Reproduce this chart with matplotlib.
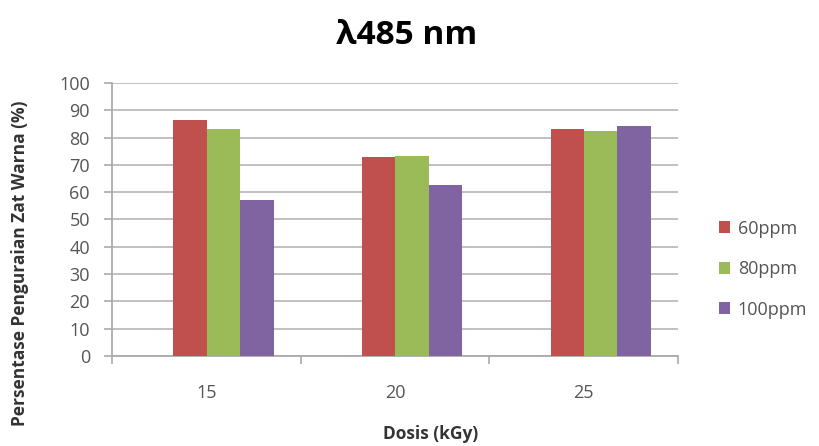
import numpy as np
import matplotlib.pyplot as plt

plt.rcParams['font.family'] = ['Open Sans', 'DejaVu Sans']

doses = ['15', '20', '25']
series = ['60ppm', '80ppm', '100ppm']
v60 = [86.4, 72.8, 83.2]
v80 = [83.2, 73.2, 82.4]
v100 = [57.0, 62.6, 84.2]
colors = ['#C0504D', '#9BBB59', '#8064A2']

fig = plt.figure(figsize=(8.19, 4.46), dpi=100)
ax = fig.add_axes([0.137, 0.202, 0.691, 0.612])

x = np.arange(len(doses))
w = 0.177
shift = 0.09  # bars sit a bit right of the category centre in the original
for i, (vals, name) in enumerate(zip([v60, v80, v100], series)):
    ax.bar(x + shift + (i - 1) * w, vals, w, color=colors[i], label=name, zorder=3)

ax.set_xlim(-0.5, 2.5)
ax.set_ylim(0, 100)
ax.set_yticks(np.arange(0, 101, 10))
ax.set_xticks(x)
ax.set_xticklabels(doses)
ax.set_xticks([-0.5, 0.5, 1.5, 2.5], minor=True)
ax.tick_params(axis='x', which='major', length=0, pad=20, labelsize=13, labelcolor='#555555')
ax.tick_params(axis='x', which='minor', length=6, color='#aaaaaa', width=1.2)
ax.tick_params(axis='y', length=6, color='#aaaaaa', width=1.2, labelsize=13,
               labelcolor='#555555', pad=10)
ax.grid(axis='y', color='#bbbbbb', linewidth=1.3, zorder=0)
for s in ['top', 'right']:
    ax.spines[s].set_visible(False)
for s in ['left', 'bottom']:
    ax.spines[s].set_color('#aaaaaa')
    ax.spines[s].set_linewidth(1.3)

fig.text(0.526, 0.006, 'Dosis (kGy)', fontsize=12.5, fontweight='bold',
         color='#333333', ha='center', va='bottom')
fig.text(0.024, 0.41, 'Persentase Penguraian Zat Warna (%)', fontsize=12.5,
         fontweight='bold', color='#333333', rotation=90, ha='center', va='center')
fig.text(0.497, 0.92, 'λ485 nm', fontsize=24, fontweight='bold', ha='center', va='center')

ax.legend(loc='center left', bbox_to_anchor=(1.043, 0.318), frameon=False,
          fontsize=13, handlelength=0.65, handleheight=0.65, handletextpad=0.4,
          labelspacing=1.25, labelcolor='#555555')

fig.savefig('out.png', dpi=100)
